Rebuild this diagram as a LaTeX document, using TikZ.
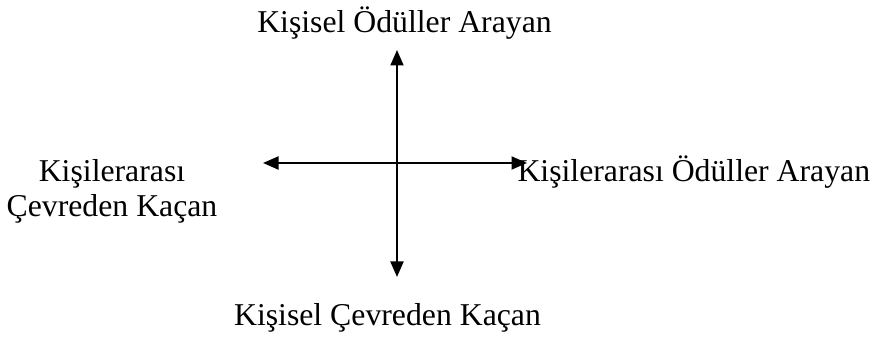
\documentclass[tikz,border=0pt]{standalone}
\usepackage{fontspec}
\setmainfont{Liberation Serif}
\usetikzlibrary{arrows.meta}
\begin{document}
\begin{tikzpicture}[x=0.4pt, y=-0.4pt,
    lbl/.style={inner sep=0pt, font=\fontsize{12.7}{14}\selectfont},
    axis/.style={-{Triangle[length=6.2pt, width=5.2pt]}, line width=0.8pt}]
                \useasboundingbox (0,0) rectangle (875,338);
                \coordinate (o) at (397,163);
                \coordinate (up) at (397,50);
                \coordinate (down) at (397,277);
                \coordinate (left) at (263,163);
                \coordinate (right) at (527,163);
                \draw[axis] (o) -- (up);
                \draw[axis] (o) -- (down);
                \draw[axis] (o) -- (left);
                \draw[axis] (o) -- (right);
                \node[lbl, anchor=base] (kisiselodul) at (404.5,33) {Kişisel Ödüller Arayan};
                \node[lbl, anchor=base] (kisiselcevre) at (387.5,326) {Kişisel Çevreden Kaçan};
                \node[lbl, anchor=base west] (kisilerodul) at (517,182) {Kişilerarası Ödüller Arayan};
                \node[lbl, anchor=base, align=center] (kisilercevre) at (112,217) {Kişilerarası\\Çevreden Kaçan};
            \end{tikzpicture}
\end{document}
